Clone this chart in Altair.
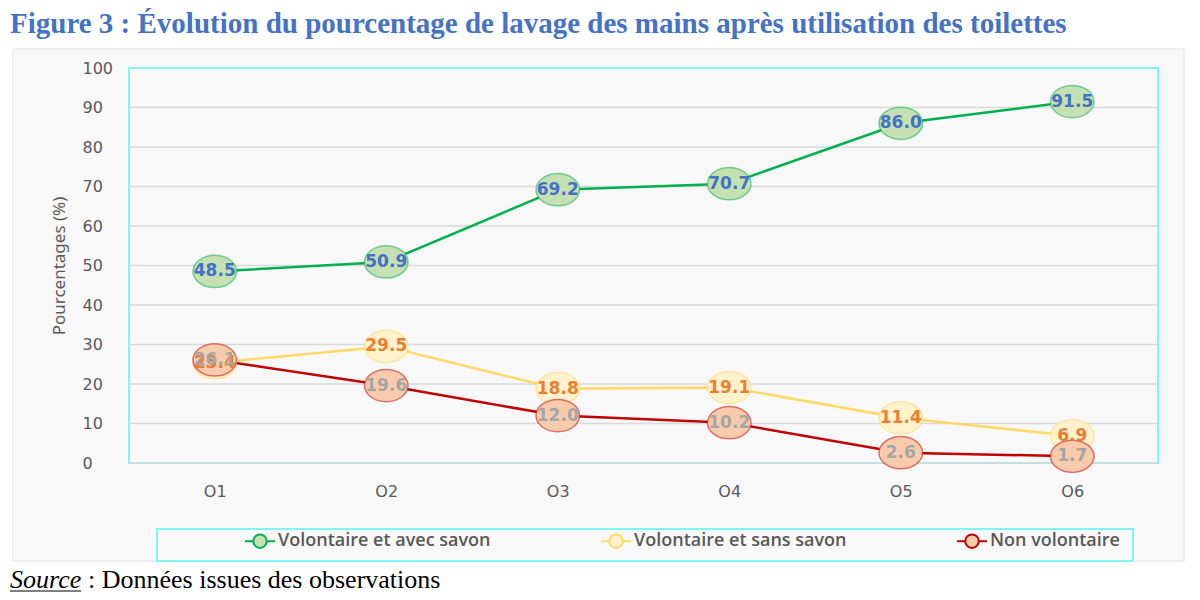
import altair as alt
import pandas as pd

# ---- data ----
categories = ["O1", "O2", "O3", "O4", "O5", "O6"]
series_names = ["Volontaire et avec savon", "Volontaire et sans savon", "Non volontaire"]
avec_savon = [48.5, 50.9, 69.2, 70.7, 86.0, 91.5]
sans_savon = [25.4, 29.5, 18.8, 19.1, 11.4, 6.9]
non_volontaire = [26.1, 19.6, 12.0, 10.2, 2.6, 1.7]
y_ticks = [0, 10, 20, 30, 40, 50, 60, 70, 80, 90, 100]
grid_values = [0, 10, 20, 30, 40, 50, 60, 70, 80, 90]

# ---- styles ----
line_colors = ["#00b050", "#ffd966", "#c00000"]
fill_colors = ["#c5e0b3", "#fff2cc", "#f8cbad"]
label_colors = ["#4472c4", "#ed7d31", "#a5a5a5"]
CYAN = "#7ff5f5"
W, H = 1029, 395

rows = []
for name, vals in zip(series_names, [avec_savon, sans_savon, non_volontaire]):
    for c, v in zip(categories, vals):
        rows.append({"serie": name, "obs": c, "val": v})
df = pd.DataFrame(rows)

x_axis = alt.Axis(title=None, labelAngle=0, domain=False, ticks=False, tickSize=0,
                  labelPadding=20, labelFont="DejaVu Sans", labelFontSize=16,
                  labelColor="#595959", grid=False, zindex=1)
x_enc = alt.X("obs:N", sort=categories, scale=alt.Scale(type="point", padding=0.5), axis=x_axis)
y_scale = alt.Scale(domain=[0, 100], nice=False, zero=True)
y_axis = alt.Axis(title="Pourcentages (%)", values=y_ticks, grid=False, domain=False,
                  ticks=False, tickSize=0, labelAlign="left", labelPadding=47,
                  labelFont="DejaVu Sans", labelFontSize=16, labelColor="#595959",
                  titleFont="Liberation Sans Narrow, Noto Sans", titleFontSize=17,
                  titleFontWeight="normal", titleColor="#595959", titlePadding=14,
                  zindex=1)
y_enc = alt.Y("val:Q", scale=y_scale, axis=y_axis)

legend_symbol = ("M-1,0L-0.45,0M0.45,0L1,0M-0.45,0A0.45,0.45,0,1,1,0.45,0"
                 "A0.45,0.45,0,1,1,-0.45,0Z")
leg = alt.Legend(title=None, orient="none", legendX=115, legendY=457, direction="horizontal",
                 symbolType=legend_symbol, symbolSize=900, symbolStrokeWidth=2,
                 labelFont="Open Sans", labelFontSize=18, labelFontWeight=600,
                 labelColor="#595959", labelLimit=500, labelOffset=2, columnPadding=106,
                 gridAlign="all", padding=0)

stroke_scale = alt.Scale(domain=series_names, range=line_colors)
fill_scale = alt.Scale(domain=series_names, range=fill_colors)
label_scale = alt.Scale(domain=series_names, range=label_colors)

one = pd.DataFrame({"k": [0]})

panel = alt.Chart(one).mark_rect(fill="#f8f8f8", stroke="#e2e2e2", strokeWidth=1).encode(
    x=alt.value(-116), x2=alt.value(1055), y=alt.value(-19), y2=alt.value(493))

frame = alt.Chart(one).mark_rect(fillOpacity=0, stroke=CYAN, strokeWidth=2).encode(
    x=alt.value(0), x2=alt.value(W), y=alt.value(0), y2=alt.value(H))

legend_frame = alt.Chart(one).mark_rect(fillOpacity=0, stroke=CYAN, strokeWidth=2).encode(
    x=alt.value(28), x2=alt.value(1004), y=alt.value(461), y2=alt.value(493))

grid = alt.Chart(pd.DataFrame({"val": grid_values})).mark_rule(
    color="#d9d9d9", strokeWidth=1.3).encode(y=alt.Y("val:Q", scale=y_scale, axis=y_axis))

lines = alt.Chart(df).mark_line(strokeWidth=2.5).encode(
    x=x_enc, y=y_enc,
    stroke=alt.Stroke("serie:N", scale=stroke_scale, legend=leg, title=None),
    detail="serie:N",
)

ellipse = "M-1,0A1,0.74,0,1,1,1,0A1,0.74,0,1,1,-1,0Z"
points = alt.Chart(df).mark_point(shape=ellipse, size=1900, filled=True, strokeWidth=1.5,
                                  strokeOpacity=0.5, opacity=1).encode(
    x=x_enc, y=y_enc,
    fill=alt.Fill("serie:N", scale=fill_scale, legend=leg, title=None),
    stroke=alt.Stroke("serie:N", scale=stroke_scale, legend=leg, title=None),
)

labels = alt.Chart(df).mark_text(font="DejaVu Sans", fontSize=17, fontWeight="bold",
                                 align="center", baseline="middle").encode(
    x=x_enc, y=y_enc,
    text=alt.Text("val:Q", format=".1f"),
    color=alt.Color("serie:N", scale=label_scale, legend=None),
)

source_a = alt.Chart(one).mark_text(text="Source", font="Liberation Serif", fontSize=26,
                                    fontStyle="italic", align="left", baseline="alphabetic",
                                    color="#000000").encode(x=alt.value(-119), y=alt.value(520))
source_u = alt.Chart(one).mark_rule(color="#000000", strokeWidth=1).encode(
    x=alt.value(-119), x2=alt.value(-48), y=alt.value(523))
source_b = alt.Chart(one).mark_text(text=": Données issues des observations",
                                    font="Liberation Serif", fontSize=26, align="left",
                                    baseline="alphabetic", color="#000000").encode(
    x=alt.value(-41), y=alt.value(520))

chart = alt.layer(panel, frame, grid, lines, points, labels, legend_frame,
                  source_a, source_u, source_b).resolve_scale(color="independent").properties(
    width=W, height=H,
    autosize=alt.AutoSizeParams(type="none"),
    padding={"left": 121, "top": 60, "right": 34, "bottom": 132},
    background="#ffffff",
    title=alt.TitleParams(
        "Figure 3 : Évolution du pourcentage de lavage des mains après utilisation des toilettes",
        anchor="start", frame="group", dx=-119, offset=10,
        font="Liberation Serif", fontSize=29, fontWeight="bold", color="#4472c4"),
).configure_view(stroke=None)

chart.save("out.html", embed_options={"renderer": "svg", "actions": False})
